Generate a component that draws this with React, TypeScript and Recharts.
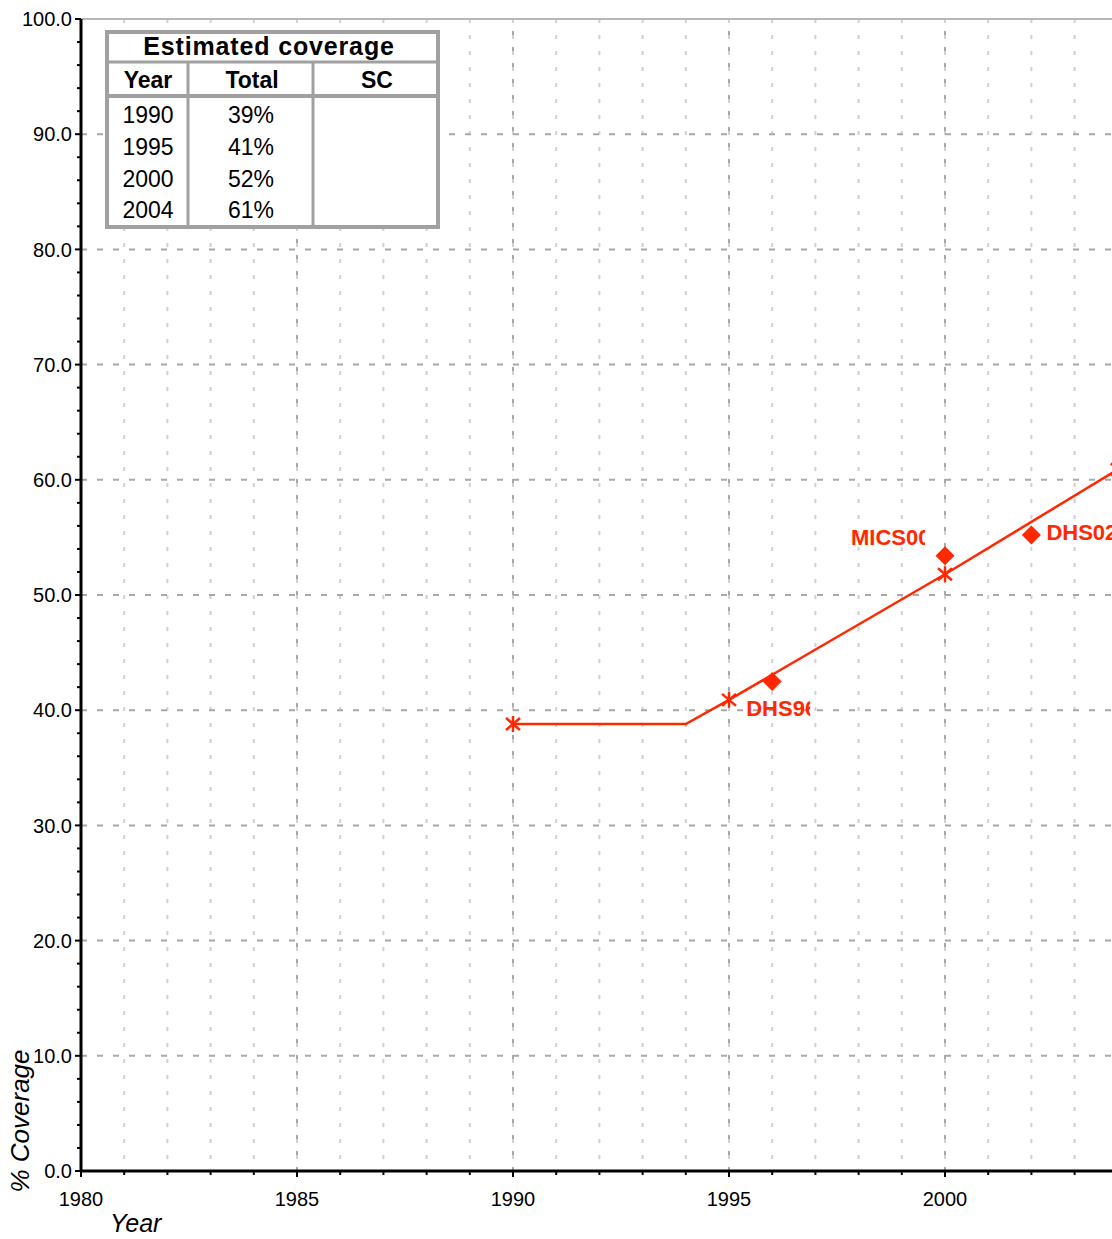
import { ComposedChart, Line, Scatter, XAxis, YAxis, CartesianGrid, ReferenceLine } from 'recharts'

// estimated coverage line (1994 is a break point without a marker)
const estimateYears = [1990, 1994, 1995, 2000, 2004]
const estimateValues = [38.8, 38.8, 40.9, 51.8, 60.9]
const estimateMarked = [true, false, true, true, true]

// survey points
const surveyNames = ['DHS96', 'MICS00', 'DHS02']
const surveyYears = [1996, 2000, 2002]
const surveyValues = [42.5, 53.4, 55.2]

// table in the corner
const tableYears = ['1990', '1995', '2000', '2004']
const tableTotals = ['39%', '41%', '52%', '61%']
const tableSC = ['', '', '', '']

// axes
const xLabelTicks = [1980, 1985, 1990, 1995, 2000]
const xMajorLines = [1985, 1990, 1995, 2000, 2005]
const yMajorTicks = [0, 10, 20, 30, 40, 50, 60, 70, 80, 90, 100]
const xAllTicks = Array.from({ length: 26 }, (_, i) => 1980 + i)
const yAllTicks = Array.from({ length: 51 }, (_, i) => i * 2)

const RED = '#ff2800'
const FONT = '"Liberation Sans", Arial, Helvetica, sans-serif'

// where each survey label sits relative to its diamond, and how wide it is visible
const labelPlacement: Record<string, { dx: number; dy: number; clip: number }> = {
  DHS96: { dx: -26, dy: 35, clip: 64 },
  MICS00: { dx: -94, dy: -11, clip: 74 },
  DHS02: { dx: 15, dy: 5, clip: 200 },
}

const estimateData = estimateYears.map((x, i) => ({ x, y: estimateValues[i], marked: estimateMarked[i] }))
const surveyData = surveyYears.map((x, i) => ({ x, y: surveyValues[i], name: surveyNames[i] }))

const StarDot = (props: any) => {
  const { cx, cy, payload, index } = props
  if (!payload || !payload.marked) return <g key={`s${index}`} />
  return (
    <g key={`s${index}`} stroke={RED} strokeWidth={2.5}>
      <line x1={cx} y1={cy - 8} x2={cx} y2={cy + 8} />
      <line x1={cx - 7} y1={cy - 6} x2={cx + 7} y2={cy + 6} />
      <line x1={cx - 7} y1={cy + 6} x2={cx + 7} y2={cy - 6} />
    </g>
  )
}

const Diamond = (props: any) => {
  const { cx, cy, payload } = props
  const r = 9.5
  const p = labelPlacement[payload.name]
  return (
    <g>
      <polygon points={`${cx},${cy - r} ${cx + r},${cy} ${cx},${cy + r} ${cx - r},${cy}`} fill={RED} />
      <svg x={cx + p.dx} y={cy + p.dy - 20} width={p.clip} height={26} overflow="hidden">
        <text x={0} y={20} fill={RED} fontSize={22} fontWeight="bold" fontFamily={FONT}>
          {payload.name}
        </text>
      </svg>
    </g>
  )
}

const YTick = (props: any) => {
  const { x, y, payload } = props
  const v = payload.value
  const major = v % 10 === 0
  return (
    <g>
      <line x1={major ? x - 6 : x - 4} y1={y} x2={x} y2={y} stroke="#000" strokeWidth={2} />
      {major && (
        <text x={x - 9} y={y} dy="0.36em" textAnchor="end" fontSize={20} fontFamily={FONT} fill="#000">
          {v.toFixed(1)}
        </text>
      )}
    </g>
  )
}

const XTick = (props: any) => {
  const { x, y, payload } = props
  const v = payload.value
  const major = v % 5 === 0
  return (
    <g>
      <line x1={x} y1={y} x2={x} y2={y + (major ? 6 : 4)} stroke="#000" strokeWidth={2} />
      {xLabelTicks.includes(v) && (
        <text x={x} y={y + 35} textAnchor="middle" fontSize={20} fontFamily={FONT} fill="#000">
          {v}
        </text>
      )}
    </g>
  )
}

function CoverageTable() {
  const grey = '#a0a0a0'
  const rowBase = [123, 155, 187, 218]
  return (
    <g fontFamily={FONT} fill="#000">
      <rect x={107} y={32} width={331} height={195} fill="#fff" stroke={grey} strokeWidth={4} />
      <line x1={107} y1={62} x2={438} y2={62} stroke={grey} strokeWidth={3} />
      <line x1={107} y1={96} x2={438} y2={96} stroke={grey} strokeWidth={4} />
      <line x1={188} y1={62} x2={188} y2={227} stroke={grey} strokeWidth={3} />
      <line x1={313} y1={62} x2={313} y2={227} stroke={grey} strokeWidth={3} />
      <text x={269} y={55} textAnchor="middle" fontSize={25} fontWeight="bold" letterSpacing={0.85}>
        Estimated coverage
      </text>
      <text x={148} y={88} textAnchor="middle" fontSize={23} fontWeight="bold">Year</text>
      <text x={252} y={88} textAnchor="middle" fontSize={23} fontWeight="bold">Total</text>
      <text x={377} y={88} textAnchor="middle" fontSize={23} fontWeight="bold">SC</text>
      {tableYears.map((yr, i) => (
        <g key={yr}>
          <text x={148} y={rowBase[i]} textAnchor="middle" fontSize={23}>{yr}</text>
          <text x={251} y={rowBase[i]} textAnchor="middle" fontSize={23}>{tableTotals[i]}</text>
          <text x={377} y={rowBase[i]} textAnchor="middle" fontSize={23}>{tableSC[i]}</text>
        </g>
      ))}
    </g>
  )
}

export default function App() {
  return (
    <div style={{ position: 'absolute', left: 0, top: 0, width: 1112, height: 1239, overflow: 'hidden', background: '#fff' }}>
      <ComposedChart
        width={1171}
        height={1239}
        margin={{ top: 19, right: 10, bottom: 0, left: 0 }}
      >
        <CartesianGrid
          horizontal={false}
          stroke="#d0d0d0"
          strokeWidth={2}
          strokeDasharray="4 12"
        />
        {xMajorLines.map((v) => (
          <ReferenceLine key={`vx${v}`} x={v} stroke="#a8a8a8" strokeWidth={2} strokeDasharray="4 12" />
        ))}
        {yMajorTicks.filter((v) => v > 0 && v < 100).map((v) => (
          <ReferenceLine key={`hy${v}`} y={v} stroke="#a8a8a8" strokeWidth={2} strokeDasharray="6 10" />
        ))}
        <ReferenceLine y={100} stroke="#b8b8b8" strokeWidth={2} />
        <XAxis
          type="number"
          dataKey="x"
          domain={[1980, 2005]}
          ticks={xAllTicks}
          interval={0}
          height={68}
          tickSize={0}
          tickMargin={0}
          tick={XTick}
          axisLine={{ stroke: '#000', strokeWidth: 3 }}
          tickLine={false}
          allowDataOverflow
        />
        <YAxis
          type="number"
          dataKey="y"
          domain={[0, 100]}
          ticks={yAllTicks}
          interval={0}
          width={81}
          tickSize={0}
          tickMargin={0}
          tick={YTick}
          axisLine={{ stroke: '#000', strokeWidth: 3 }}
          tickLine={false}
          allowDataOverflow
        />
        <Line
          data={estimateData}
          dataKey="y"
          type="linear"
          stroke={RED}
          strokeWidth={2.5}
          dot={StarDot}
          activeDot={false}
          isAnimationActive={false}
        />
        <Scatter data={surveyData} dataKey="y" shape={Diamond} isAnimationActive={false} />
      </ComposedChart>
      <svg
        width={1112}
        height={1239}
        style={{ position: 'absolute', left: 0, top: 0, pointerEvents: 'none' }}
      >
        <CoverageTable />
        <text
          transform="translate(29,1121) rotate(-90)"
          textAnchor="middle"
          fontSize={26}
          fontStyle="italic"
          fontFamily={FONT}
          fill="#000"
        >
          % Coverage
        </text>
        <text x={110} y={1232} fontSize={25} fontStyle="italic" fontFamily={FONT} fill="#000">
          Year
        </text>
      </svg>
    </div>
  )
}
